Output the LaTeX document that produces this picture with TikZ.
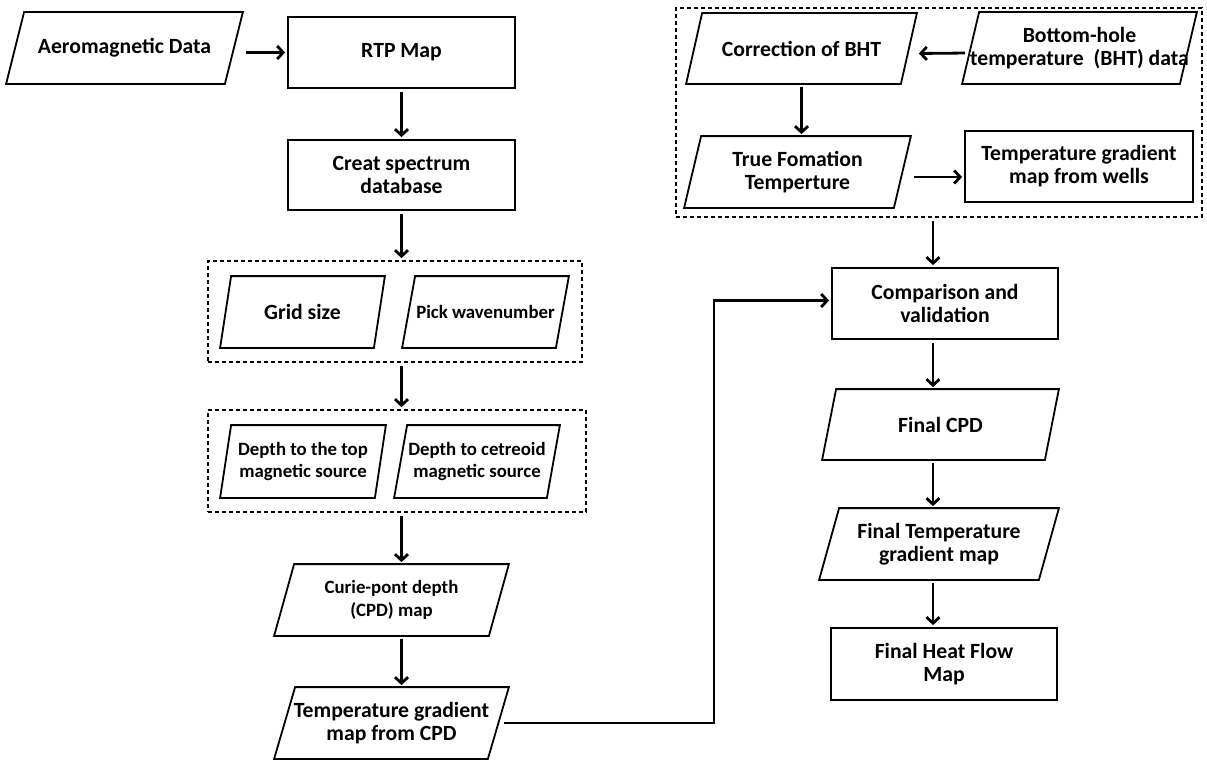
\documentclass[tikz,border=0pt]{standalone}
\usepackage{fontspec}
\setmainfont{Carlito}
\usepackage{tikz}
\usetikzlibrary{positioning, arrows.meta, calc}

\tikzset{
  base/.style={line width=1.8pt, align=center, inner sep=0pt,
               font=\bfseries\fontsize{21.7}{23}\selectfont},
  small/.style={font=\bfseries\fontsize{18.8}{22.5}\selectfont},
  % parallelogram drawn inside the node's box
  iobox/.style={base, rectangle, append after command={\pgfextra{%
      \draw[line width=1.8pt, line join=miter]
        ([xshift=#1]\tikzlastnode.north west) -- (\tikzlastnode.north east)
        -- ([xshift=-#1]\tikzlastnode.south east) -- (\tikzlastnode.south west) -- cycle;}}},
  iobox/.default=17pt,
  procbox/.style={base, draw, rectangle},
  groupbox/.style={draw, dashed, dash pattern=on 4pt off 3pt, line width=1.8pt,
                   inner sep=0pt},
  arr/.style={line width=2.8pt, -{Straight Barb[length=6pt,width=13pt]},
              shorten <=3pt, shorten >=2pt}
}

\begin{document}
\begin{tikzpicture}[x=1pt, y=-1pt]
  \useasboundingbox (0,0) rectangle (1207,760);

  % left column
  \node[iobox=18pt, minimum width=235pt, minimum height=70pt] (aero) at (124.5,48) {Aeromagnetic Data};
  \node[procbox, minimum width=227pt, minimum height=71pt] (rtp) at (401.5,52.5) {RTP Map};
  \node[procbox, minimum width=227pt, minimum height=70pt] (spec) at (401.5,175) {Creat spectrum\\database};

  \node[groupbox, minimum width=374pt, minimum height=101pt] (grp1) at (395,311.5) {};
  \node[iobox=11pt, minimum width=163pt, minimum height=70pt] (grid) at (302.5,312) {Grid size};
  \node[iobox=13pt, small, minimum width=165pt, minimum height=70pt] (pick) at (485.5,312) {Pick wavenumber};

  \node[groupbox, minimum width=378pt, minimum height=102pt] (grp2) at (397,461) {};
  \node[iobox=11pt, small, minimum width=164pt, minimum height=71pt] (dtop) at (303,461.5) {Depth to the top\\magnetic source};
  \node[iobox=13pt, small, minimum width=164pt, minimum height=71pt] (dcen) at (477,461.5) {Depth to cetreoid\\magnetic source};

  \node[iobox=20pt, small, minimum width=233pt, minimum height=70pt] (curie) at (391.5,600) {Curie-pont depth\\(CPD) map};
  \node[iobox=21pt, minimum width=233pt, minimum height=70pt] (tcpd) at (391.5,723) {Temperature gradient\\map from CPD};

  % right column
  \node[groupbox, minimum width=526pt, minimum height=209pt] (grp3) at (939,112.5) {};
  \node[iobox=16pt, minimum width=229pt, minimum height=69pt] (corr) at (801.5,48.5) {Correction of BHT};
  \node[iobox, minimum width=233pt, minimum height=70pt] (bht) at (1079.5,48) {Bottom-hole\\temperature\ \ (BHT) data};
  \node[iobox, minimum width=225pt, minimum height=70pt] (true) at (797.5,172) {True Fomation\\Temperture};
  \node[procbox, minimum width=228pt, minimum height=71pt] (wells) at (1079,166.5) {Temperature gradient\\map from wells};

  \node[procbox, minimum width=226pt, minimum height=71pt] (comp) at (945,303.5) {Comparison and\\validation};
  \node[iobox=14pt, minimum width=235pt, minimum height=69pt] (fcpd) at (940.5,424.5) {Final CPD};
  \node[iobox=20pt, minimum width=238pt, minimum height=70pt] (ftemp) at (939,544) {Final Temperature\\gradient map};
  \node[procbox, minimum width=226pt, minimum height=72pt] (fheat) at (944,664) {Final Heat Flow\\Map};

  \coordinate (spine) at (933,0);
  \coordinate (bend) at (714,0);

  % connectors
  \draw[arr] (aero.east |- rtp.west) -- (rtp.west);
  \draw[arr] (rtp.south) -- (spec.north);
  \draw[arr] (spec.south) -- (spec.south |- grp1.north);
  \draw[arr] (grp1.south -| spec.south) -- (grp2.north -| spec.south);
  \draw[arr] (grp2.south -| spec.south) -- (curie.north -| spec.south);
  \draw[arr] (curie.south -| spec.south) -- (tcpd.north -| spec.south);
  \draw[arr] ($(tcpd.east)+(-8,0)$) -| ($(bend |- comp.west)+(0,-3)$) -- ($(comp.west)+(0,-3)$);

  \draw[arr] ($(bht.west)+(6,5)$) -- ($(corr.east)+(0,5)$);
  \draw[arr] (corr.south) -- (corr.south |- true.north);
  \draw[arr] ($(true.east)+(0,5)$) -- ($(true.east -| wells.west)+(0,5)$);
  \draw[arr] (grp3.south -| spine) -- (comp.north -| spine);
  \draw[arr] (comp.south -| spine) -- (fcpd.north -| spine);
  \draw[arr] (fcpd.south -| spine) -- (ftemp.north -| spine);
  \draw[arr] (ftemp.south -| spine) -- (fheat.north -| spine);
\end{tikzpicture}
\end{document}
